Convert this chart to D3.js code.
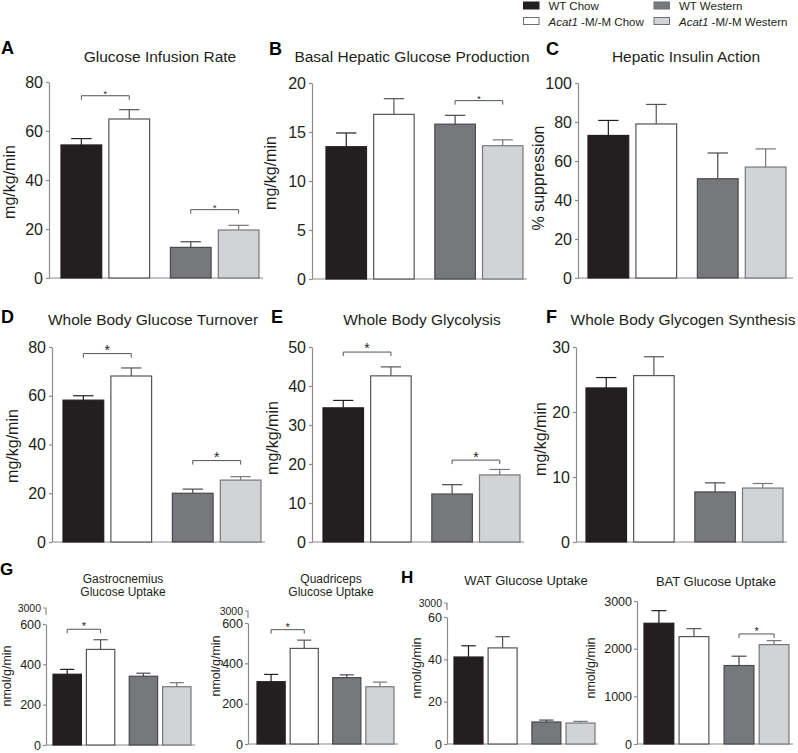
<!DOCTYPE html>
<html>
<head>
<meta charset="utf-8">
<script src="https://cdn.jsdelivr.net/npm/d3@7"></script>
<style>
    body { margin: 0; background: #fff; }
    svg { display: block; font-family: "Liberation Sans", Arial, sans-serif; }
    .axis-line { stroke: #8c8c8c; stroke-width: 1.2; fill: none; }
    .tick-label { fill: #231f20; }
    .title { fill: #231f20; text-anchor: middle; }
    .letter { fill: #000; font-weight: bold; }
</style>
</head>
<body>
<svg id="fig" width="798" height="753"></svg>
<script>
/* ---------- data ---------- */
const groups = ["WT Chow", "Acat1 -M/-M Chow", "WT Western", "Acat1 -M/-M Western"];
const diets = ["Chow", "Western"];
const genotypes = ["WT", "Acat1"];
const fills = ["#231f20", "#ffffff", "#77787b", "#d1d3d4"];
const strokes = ["#231f20", "#555555", "#48494b", "#77787b"];

// means and upward SEM, in group order
const girMean = [54.3, 64.9, 12.5, 19.6];
const girErr = [2.6, 3.8, 2.3, 1.9];
const girTicks = [0, 20, 40, 60, 80];
const girSig = [[0, 1, 74.4], [2, 3, 27.9]];

const hgpMean = [13.5, 16.8, 15.8, 13.6];
const hgpErr = [1.4, 1.6, 0.9, 0.6];
const hgpTicks = [0, 5, 10, 15, 20];
const hgpSig = [[2, 3, 18.2]];

const insMean = [73.1, 79.0, 50.9, 56.9];
const insErr = [7.7, 10.0, 13.2, 9.3];
const insTicks = [0, 20, 40, 60, 80, 100];
const insSig = [];

const turnMean = [58.2, 68.1, 20.0, 25.4];
const turnErr = [1.8, 3.3, 1.7, 1.4];
const turnTicks = [0, 20, 40, 60, 80];
const turnSig = [[0, 1, 77.3], [2, 3, 33.4]];

const glycMean = [34.4, 42.6, 12.3, 17.2];
const glycErr = [1.9, 2.3, 2.4, 1.4];
const glycTicks = [0, 10, 20, 30, 40, 50];
const glycSig = [[0, 1, 48.7], [2, 3, 21.0]];

const synMean = [23.7, 25.6, 7.7, 8.3];
const synErr = [1.6, 2.9, 1.4, 0.7];
const synTicks = [0, 10, 20, 30];
const synSig = [];

const gastMean = [351, 474, 341, 289];
const gastErr = [24, 48, 15, 20];
const gastTicks = [0, 200, 400, 600];
const gastSig = [[0, 1, 574]];

const quadMean = [309, 474, 329, 284];
const quadErr = [36, 41, 14, 23];
const quadTicks = [0, 200, 400, 600];
const quadSig = [[0, 1, 567]];

const watMean = [41.1, 45.4, 10.4, 9.9];
const watErr = [5.3, 5.3, 0.9, 0.8];
const watTicks = [0, 20, 40, 60];
const watSig = [];

const batMean = [2533, 2253, 1646, 2085];
const batErr = [264, 167, 196, 84];
const batTicks = [0, 1000, 2000, 3000];
const batSig = [[2, 3, 2309]];

const breakLabel = "3000";

/* ---------- layout ---------- */
const big = { fs: 16, tfs: 15.5, yfs: 16, tick: 3, pad: 3, lead: 0 };
const small = { fs: 12.5, tfs: 12, yfs: 12.5, tick: 3, pad: 2, lead: 13.5 };

const panels = [
    { letter: "A", lx: 1, ly: 54, title: ["Glucose Infusion Rate"], tx: 160, ty: 62, mean: girMean, err: girErr, ticks: girTicks, sig: girSig,
      ylabel: "mg/kg/min", ylx: 9, yly: 182, ax: 49, x1: 263, y0: 278, yTop: 82, barL: 61, barR: 259, st: big, starFs: 9 },
    { letter: "B", lx: 269, ly: 55, title: ["Basal Hepatic Glucose Production"], tx: 412, ty: 62, mean: hgpMean, err: hgpErr, ticks: hgpTicks, sig: hgpSig,
      ylabel: "mg/kg/min", ylx: 270, yly: 173, ax: 312, x1: 527, y0: 279, yTop: 83, barL: 326, barR: 523, st: big, starFs: 9 },
    { letter: "C", lx: 546, ly: 55, title: ["Hepatic Insulin Action"], tx: 686, ty: 62, mean: insMean, err: insErr, ticks: insTicks, sig: insSig,
      ylabel: "% suppression", ylx: 538, yly: 178, ax: 578, x1: 793, y0: 278, yTop: 83, barL: 588, barR: 786, st: big, starFs: 9 },
    { letter: "D", lx: 1, ly: 323, title: ["Whole Body Glucose Turnover"], tx: 153, ty: 325, mean: turnMean, err: turnErr, ticks: turnTicks, sig: turnSig,
      ylabel: "mg/kg/min", ylx: 12, yly: 446, ax: 52, x1: 265, y0: 542, yTop: 347, barL: 63, barR: 261, st: big, starFs: 14 },
    { letter: "E", lx: 271, ly: 323, title: ["Whole Body Glycolysis"], tx: 422, ty: 325, mean: glycMean, err: glycErr, ticks: glycTicks, sig: glycSig,
      ylabel: "mg/kg/min", ylx: 272, yly: 438, ax: 312, x1: 524, y0: 542, yTop: 347, barL: 323, barR: 520, st: big, starFs: 14 },
    { letter: "F", lx: 546, ly: 323, title: ["Whole Body Glycogen Synthesis"], tx: 683, ty: 325, mean: synMean, err: synErr, ticks: synTicks, sig: synSig,
      ylabel: "mg/kg/min", ylx: 540, yly: 439, ax: 576, x1: 787, y0: 542, yTop: 347, barL: 586, barR: 783, st: big, starFs: 14 },
    { letter: "G", lx: 0, ly: 575, title: ["Gastrocnemius", "Glucose Uptake"], tx: 123, ty: 582.5, mean: gastMean, err: gastErr, ticks: gastTicks, sig: gastSig,
      ylabel: "nmol/g/min", ylx: 7, yly: 676, ax: 46, x1: 195, y0: 745, yTop: 624, barL: 53, barR: 191, st: small, starFs: 11, breakY: 608 },
    { letter: "", title: ["Quadriceps", "Glucose Uptake"], tx: 331, ty: 582.5, mean: quadMean, err: quadErr, ticks: quadTicks, sig: quadSig,
      ylabel: "nmol/g/min", ylx: 216, yly: 666, ax: 248, x1: 398, y0: 744, yTop: 623, barL: 257, barR: 394, st: small, starFs: 11, breakY: 611 },
    { letter: "H", lx: 401, ly: 583, title: ["WAT Glucose Uptake"], tx: 526, ty: 585, mean: watMean, err: watErr, ticks: watTicks, sig: watSig,
      ylabel: "nmol/g/min", ylx: 417, yly: 668, ax: 447, x1: 598, y0: 744, yTop: 617, barL: 454, barR: 595, st: small, starFs: 11, breakY: 603 },
    { letter: "", title: ["BAT Glucose Uptake"], tx: 716, ty: 586, mean: batMean, err: batErr, ticks: batTicks, sig: batSig,
      ylabel: "nmol/g/min", ylx: 591, yly: 668, ax: 637, x1: 793, y0: 744, yTop: 601, barL: 644, barR: 789, st: small, starFs: 11 }
];

const svg = d3.select("#fig");

/* ---------- legend ---------- */
const legend = svg.append("g").attr("font-size", 11.5).attr("fill", "#231f20");
const legendX = d3.scaleOrdinal().domain(diets).range([523.5, 654]);
const legendY = d3.scaleOrdinal().domain(genotypes).range([2, 17.5]);
groups.forEach((g, i) => {
    const diet = diets[Math.floor(i / 2)];
    const geno = genotypes[i % 2];
    const x = legendX(diet), y = legendY(geno);
    legend.append("rect")
        .attr("x", x).attr("y", y)
        .attr("width", 15.5).attr("height", 7)
        .attr("fill", fills[i])
        .attr("stroke", i === 0 ? fills[0] : "#6d6e71")
        .attr("stroke-width", 1);
    const t = legend.append("text").attr("x", x + 25).attr("y", y + 8.3);
    if (geno === "Acat1") {
        t.append("tspan").attr("font-style", "italic").text("Acat1");
        t.append("tspan").text(g.replace("Acat1", ""));
    } else {
        t.text(g);
    }
});

/* ---------- panels ---------- */
panels.forEach(p => {
    const g = svg.append("g");
    const maxVal = p.ticks[p.ticks.length - 1];
    const y = d3.scaleLinear().domain([0, maxVal]).range([p.y0, p.yTop]);
    const xDiet = d3.scaleBand().domain(diets).range([p.barL, p.barR]).paddingInner(0.19).paddingOuter(0);
    const xGeno = d3.scaleBand().domain(genotypes).range([0, xDiet.bandwidth()]).paddingInner(0.15).paddingOuter(0);
    const barX = i => xDiet(diets[Math.floor(i / 2)]) + xGeno(genotypes[i % 2]);
    const bw = xGeno.bandwidth();

    // y axis
    const axis = d3.axisLeft(y)
        .tickValues(p.ticks)
        .tickFormat(d3.format("d"))
        .tickSize(p.st.tick)
        .tickSizeOuter(0)
        .tickPadding(p.st.pad);
    const ag = g.append("g").attr("transform", `translate(${p.ax},0)`).call(axis);
    ag.select(".domain").attr("class", "axis-line");
    ag.selectAll(".tick line").attr("class", "axis-line");
    ag.selectAll(".tick text")
        .attr("class", "tick-label")
        .attr("font-size", p.st.fs)
        .attr("font-family", "'Liberation Sans', Arial, sans-serif");

    // broken axis segment for the 3000 label
    if (p.breakY !== undefined) {
        g.append("path")
            .attr("class", "axis-line")
            .attr("d", `M${p.ax - p.st.tick},${p.breakY}H${p.ax}V${p.breakY + 7}`);
        g.append("text")
            .attr("class", "tick-label")
            .attr("x", p.ax - p.st.tick - p.st.pad)
            .attr("y", p.breakY)
            .attr("dy", "0.35em")
            .attr("text-anchor", "end")
            .attr("font-size", 10.5)
            .text(breakLabel);
    }

    // baseline
    g.append("line")
        .attr("class", "axis-line")
        .attr("x1", p.ax).attr("x2", p.x1)
        .attr("y1", y(0)).attr("y2", y(0));

    // error bars (upward only)
    p.mean.forEach((m, i) => {
        const cx = barX(i) + bw / 2;
        g.append("line")
            .attr("x1", cx).attr("x2", cx)
            .attr("y1", y(m)).attr("y2", y(m + p.err[i]))
            .attr("stroke", strokes[i]).attr("stroke-width", 1.2);
        g.append("line")
            .attr("x1", cx - bw / 4).attr("x2", cx + bw / 4)
            .attr("y1", y(m + p.err[i])).attr("y2", y(m + p.err[i]))
            .attr("stroke", strokes[i]).attr("stroke-width", 1.2);
    });

    // bars
    g.selectAll(".bar")
        .data(p.mean)
        .enter()
        .append("rect")
        .attr("class", "bar")
        .attr("x", (d, i) => barX(i))
        .attr("y", d => y(d))
        .attr("width", bw)
        .attr("height", d => y(0) - y(d))
        .attr("fill", (d, i) => fills[i])
        .attr("stroke", (d, i) => strokes[i])
        .attr("stroke-width", 1.2);

    // significance brackets
    p.sig.forEach(([a, b, v]) => {
        const xa = barX(a) + bw / 2, xb = barX(b) + bw / 2, yy = y(v);
        g.append("path")
            .attr("d", `M${xa},${yy + 4}V${yy}H${xb}V${yy + 4}`)
            .attr("fill", "none")
            .attr("stroke", "#555")
            .attr("stroke-width", 1);
        g.append("text")
            .attr("x", (xa + xb) / 2)
            .attr("y", yy + p.starFs * 0.1)
            .attr("text-anchor", "middle")
            .attr("font-size", p.starFs)
            .attr("fill", "#231f20")
            .text("*");
    });

    // title (one text per line)
    p.title.forEach((line, k) => {
        g.append("text")
            .attr("class", "title")
            .attr("x", p.tx)
            .attr("y", p.ty + k * p.st.lead)
            .attr("font-size", p.title.length > 1 ? p.st.tfs : (p.st === big ? p.st.tfs : 13))
            .text(line);
    });

    // panel letter
    if (p.letter) {
        g.append("text")
            .attr("class", "letter")
            .attr("x", p.lx).attr("y", p.ly)
            .attr("font-size", p.st === big ? 18 : 17)
            .text(p.letter);
    }

    // y label
    g.append("text")
        .attr("transform", `translate(${p.ylx},${p.yly}) rotate(-90)`)
        .attr("text-anchor", "middle")
        .attr("dy", "0.35em")
        .attr("font-size", p.st.yfs)
        .attr("fill", "#231f20")
        .text(p.ylabel);
});
</script>
</body>
</html>
